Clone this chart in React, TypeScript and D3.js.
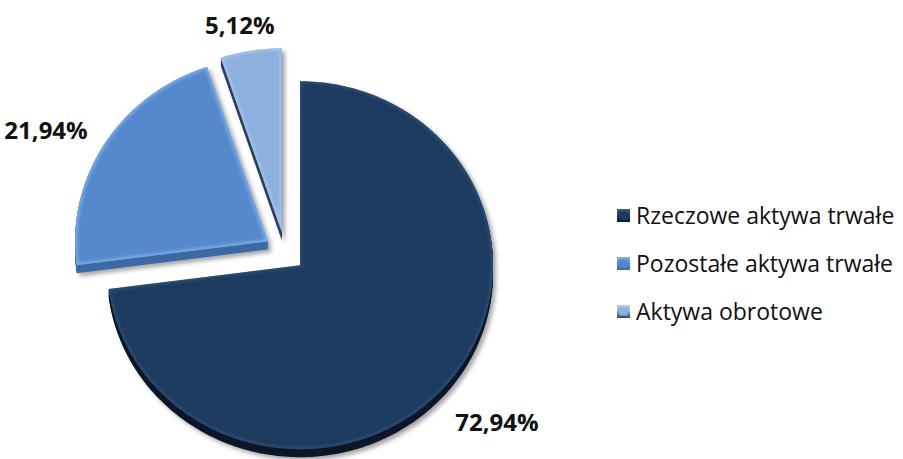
import React from "react";
import * as d3 from "d3";

const categories = ["Rzeczowe aktywa trwałe", "Pozostałe aktywa trwałe", "Aktywa obrotowe"];
const values = [72.94, 21.94, 5.12];
const topColors = ["#1e3a5f", "#5589cc", "#8db0dc"];
const rimColors = ["#3d5f8c", "#86b6ef", "#b3cdef"];
const rimOpacity = [0.45, 0.7, 0.6];
const sideColors = ["#0c1829", "#3d69a4", "#2e4160"];

const W = 903;
const H = 459;
const CX = 285;
const CY = 252;
const RX = 193;
const RY = 184;
const DEPTH = 8;
const EXPLODE = 20;

function pt(cx: number, cy: number, a: number, rx = RX, ry = RY): [number, number] {
  return [cx + rx * Math.sin(a), cy - ry * Math.cos(a)];
}

function facePath(cx: number, cy: number, a0: number, a1: number): string {
  const pts: [number, number][] = [[cx, cy]];
  const n = Math.max(2, Math.ceil(((a1 - a0) * 180) / Math.PI));
  for (let i = 0; i <= n; i++) {
    pts.push(pt(cx, cy, a0 + ((a1 - a0) * i) / n));
  }
  return d3.line()(pts) + "Z";
}

export default function App() {
  const pie = d3.pie<number>().sort(null).startAngle(0).endAngle(2 * Math.PI);
  const arcs = pie(values);
  const fmt = (v: number) => v.toFixed(2).replace(".", ",") + "%";

  const slices = arcs.map((a, i) => {
    const mid = (a.startAngle + a.endAngle) / 2;
    const dx = Math.sin(mid);
    const dy = -Math.cos(mid);
    const cx = CX + EXPLODE * dx;
    const cy = CY + EXPLODE * dy;
    const lx = cx + dx * 262;
    const ly = cy + dy * 210 + (dy > 0 ? DEPTH + 10 : 0);
    return { i, a, cx, cy, dx, dy, lx, ly, path: facePath(cx, cy, a.startAngle, a.endAngle) };
  });

  const drawOrder = [1, 2, 0];
  const legendY = d3.scalePoint<number>().domain([0, 1, 2]).range([215, 311]);

  return (
    <svg width={W} height={H} style={{ position: "absolute", left: 0, top: 0, background: "#fff" }}>
      <defs>
        <filter id="shadow" x="-20%" y="-20%" width="140%" height="140%">
          <feDropShadow dx="3" dy="3" stdDeviation="2" floodColor="#000" floodOpacity="0.35" />
        </filter>
        <filter id="blur">
          <feGaussianBlur stdDeviation="1.5" />
        </filter>
        {slices.map((s) => (
          <clipPath id={`clip${s.i}`} key={s.i}>
            <path d={s.path} />
          </clipPath>
        ))}
        {topColors.map((c, i) => (
          <linearGradient id={`lg${i}`} key={i} x1="0" y1="0" x2="0" y2="1">
            <stop offset="0" stopColor={rimColors[i]} />
            <stop offset="0.5" stopColor={c} />
            <stop offset="1" stopColor={sideColors[i]} />
          </linearGradient>
        ))}
      </defs>
      {drawOrder.map((idx) => {
        const s = slices[idx];
        return (
          <g key={idx} filter="url(#shadow)">
            {d3.range(DEPTH, 0, -1).map((k) => (
              <path key={k} d={s.path} transform={`translate(0,${k})`} fill={sideColors[idx]} />
            ))}
            <path d={s.path} fill={topColors[idx]} />
            <g clipPath={`url(#clip${idx})`}>
              <path
                d={s.path}
                fill="none"
                stroke={rimColors[idx]}
                strokeWidth={5}
                opacity={rimOpacity[idx]}
                filter="url(#blur)"
              />
            </g>
          </g>
        );
      })}
      {slices.map((s) => (
        <text
          key={s.i}
          x={s.lx}
          y={s.ly}
          textAnchor="middle"
          dominantBaseline="central"
          fontFamily="'Open Sans', sans-serif"
          fontWeight="bold"
          fontSize={24}
          fill="#111"
        >
          {fmt(values[s.i])}
        </text>
      ))}
      {categories.map((c, i) => {
        const y = legendY(i) as number;
        return (
          <g key={c}>
            <rect x={617} y={y - 6} width={13} height={13} fill={`url(#lg${i})`} />
            <rect x={619.5} y={y - 3.5} width={8} height={8} fill={topColors[i]} />
            <text
              x={636}
              y={y}
              dominantBaseline="central"
              fontFamily="'Open Sans', sans-serif"
              fontSize={23}
              fill="#111"
            >
              {c}
            </text>
          </g>
        );
      })}
    </svg>
  );
}
